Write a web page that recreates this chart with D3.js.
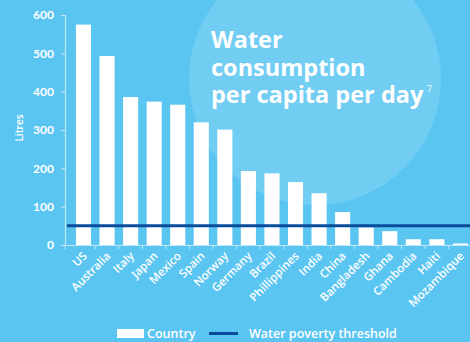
<!DOCTYPE html>
<html>
<head>
<meta charset="utf-8">
<script src="https://cdn.jsdelivr.net/npm/d3@7"></script>
<style>
  html, body { margin: 0; padding: 0; background: #5bc5f2; }
  svg { display: block; }
  text { font-family: "Open Sans", Lato, sans-serif; fill: #ffffff; }
</style>
</head>
<body>
<svg id="chart" width="470" height="342"></svg>
<script>
// Litres of water used per person per day
const countries = ["US", "Australia", "Italy", "Japan", "Mexico", "Spain", "Norway", "Germany",
  "Brazil", "Phillippines", "India", "China", "Bangladesh", "Ghana", "Cambodia", "Haiti", "Mozambique"];
const litres = [575, 493, 386, 374, 366, 320, 301, 193, 187, 164, 135, 86, 46, 36, 15, 15, 4];
const povertyThreshold = 50;
const yTicks = [0, 100, 200, 300, 400, 500, 600];
const titleLines = ["Water", "consumption", "per capita per day"];

const svg = d3.select("#chart");
const W = 470, H = 342;
const axisX = 65, y0 = 245, yTop = 15;

// background disc behind the title
svg.append("circle")
  .attr("cx", 315).attr("cy", 79).attr("r", 126)
  .attr("fill", "#72cdf2");

const y = d3.scaleLinear().domain([0, 600]).range([y0, yTop]);
const x = d3.scaleBand().domain(countries)
  .range([71.7, 71.7 + 23.56 * countries.length])
  .paddingInner(0.36).paddingOuter(0.18);

// y axis
const yAxis = svg.append("g").attr("transform", `translate(${axisX},0)`)
  .call(d3.axisLeft(y).tickValues(yTicks).tickSize(4).tickPadding(7));
yAxis.select(".domain").attr("stroke", "#bfe8fa").attr("stroke-width", 1.2);
yAxis.selectAll(".tick line").attr("stroke", "#bfe8fa");
yAxis.selectAll(".tick text")
  .attr("fill", "#eaf7fd").attr("font-size", 12).attr("font-weight", 700)
  .style("font-family", "Lato, sans-serif");

svg.append("text")
  .attr("transform", `translate(23,128) rotate(-90)`)
  .attr("text-anchor", "middle")
  .attr("font-size", 10).attr("font-weight", 600)
  .attr("fill", "#eaf7fd")
  .text("Litres");

// bars
svg.append("g").selectAll("rect").data(countries).join("rect")
  .attr("x", d => x(d))
  .attr("width", x.bandwidth())
  .attr("y", (d, i) => y(litres[i]))
  .attr("height", (d, i) => y0 - y(litres[i]))
  .attr("fill", "#ffffff");

// x axis line with ticks between categories
const xAxis = svg.append("g");
xAxis.append("line")
  .attr("x1", axisX).attr("x2", W).attr("y1", y0 + 0.5).attr("y2", y0 + 0.5)
  .attr("stroke", "#bfe8fa").attr("stroke-width", 1.2);
const boundaries = [axisX].concat(countries.slice(1).map(c => x(c) - x.step() * x.paddingInner() / 2));
xAxis.selectAll("line.tk").data(boundaries).join("line").attr("class", "tk")
  .attr("x1", d => d).attr("x2", d => d)
  .attr("y1", y0).attr("y2", y0 + 4)
  .attr("stroke", "#bfe8fa");

xAxis.selectAll("text").data(countries).join("text")
  .attr("transform", d => `translate(${x(d) + x.bandwidth() / 2 - 1.5},${y0 + 6}) rotate(-45)`)
  .attr("text-anchor", "end")
  .attr("dy", "0.7em")
  .attr("font-size", 11.5).attr("font-weight", 600)
  .attr("fill", "#eef9fe")
  .text(d => d);

// water poverty threshold
svg.append("line")
  .attr("x1", 67).attr("x2", W)
  .attr("y1", y(povertyThreshold)).attr("y2", y(povertyThreshold))
  .attr("stroke", "#0a4c9c").attr("stroke-width", 3);

// title, one text element per line
const titleBase = [48, 76, 103];
svg.append("g").selectAll("text").data(titleLines).join("text")
  .attr("x", 211).attr("y", (d, i) => titleBase[i])
  .attr("font-size", 23.5).attr("font-weight", 700)
  .text(d => d);
svg.append("text")
  .attr("x", 427).attr("y", 92)
  .attr("font-size", 8.5).attr("fill", "#dff4fd")
  .text("7");

// legend
const lg = svg.append("g");
lg.append("rect").attr("x", 117).attr("y", 329).attr("width", 27).attr("height", 9).attr("fill", "#ffffff");
lg.append("text").attr("x", 147).attr("y", 338).attr("font-size", 12.5).attr("font-weight", 600).text("Country");
lg.append("line").attr("x1", 209).attr("x2", 238).attr("y1", 333.5).attr("y2", 333.5)
  .attr("stroke", "#0a4c9c").attr("stroke-width", 3);
lg.append("text").attr("x", 249).attr("y", 338).attr("font-size", 12.5).attr("font-weight", 600).text("Water poverty threshold");
</script>
</body>
</html>
